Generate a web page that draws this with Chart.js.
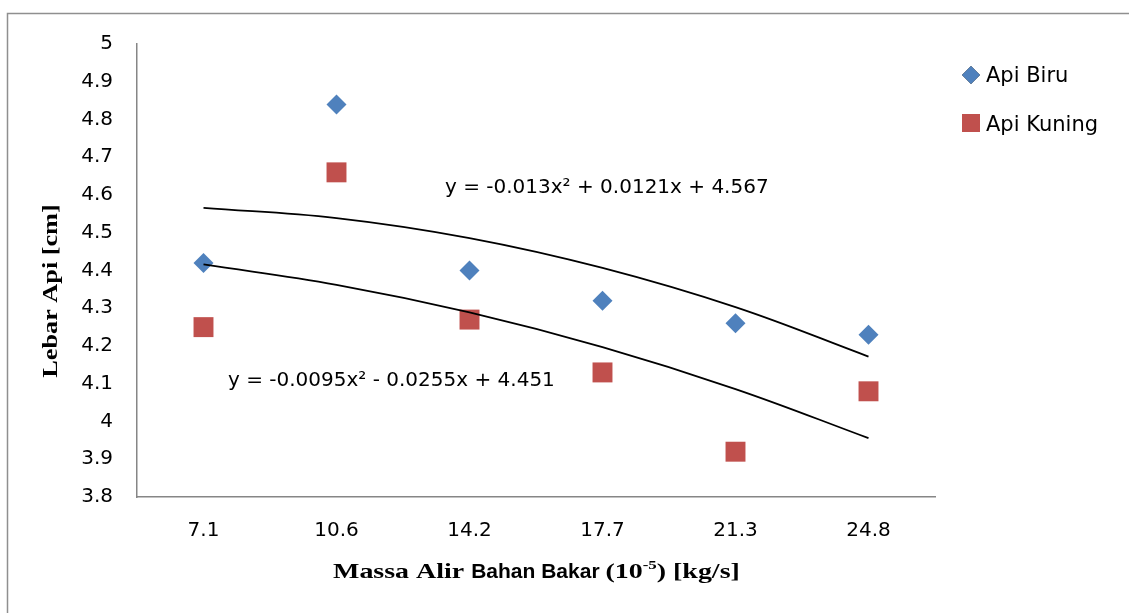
<!DOCTYPE html>
<html>
<head>
<meta charset="utf-8">
<script src="https://cdn.jsdelivr.net/npm/chart.js@4.4.0/dist/chart.umd.min.js"></script>
<style>
  html, body { margin: 0; padding: 0; background: #fff; }
  #wrap { position: relative; width: 1129px; height: 613px; }
</style>
</head>
<body>
<div id="wrap"><canvas id="chart" width="1129" height="613"></canvas></div>
<script>
// Data
const categories = ['7.1', '10.6', '14.2', '17.7', '21.3', '24.8'];
const apiBiru = [4.42, 4.84, 4.40, 4.32, 4.26, 4.23];
const apiKuning = [4.25, 4.66, 4.27, 4.13, 3.92, 4.08];
// trendline values read at each category
const trendBiru = [4.566, 4.539, 4.486, 4.407, 4.303, 4.172];
const trendKuning = [4.416, 4.362, 4.289, 4.197, 4.086, 3.956];
const eqBiru = 'y = -0.013x² + 0.0121x + 4.567';
const eqKuning = 'y = -0.0095x² - 0.0255x + 4.451';
const yTitle = 'Lebar Api [cm]';

const BLUE = '#4F81BD';
const RED = '#C0504D';
const SANS = '"DejaVu Sans", sans-serif';
const SERIF = '"Liberation Serif", "Times New Roman", serif';

// draws text runs with their own horizontal stretch
function drawRuns(ctx, runs, x, y) {
    runs.forEach(function(r) {
        ctx.save();
        ctx.font = r.font;
        ctx.translate(x, y + (r.dy || 0));
        ctx.scale(r.sx || 1, 1);
        ctx.fillText(r.text, 0, 0);
        x += ctx.measureText(r.text).width * (r.sx || 1);
        ctx.restore();
    });
}

const extras = {
    id: 'extras',
    beforeDraw(chart) {
        const ctx = chart.ctx;
        ctx.save();
        ctx.strokeStyle = '#8f8f8f';
        ctx.lineWidth = 1.5;
        ctx.strokeRect(7.5, 13.5, 2000, 2000);
        ctx.restore();
    },
    afterDraw(chart) {
        const ctx = chart.ctx;
        ctx.save();
        ctx.fillStyle = '#000';
        ctx.textAlign = 'left';
        ctx.textBaseline = 'alphabetic';

        // trendline equations
        ctx.font = '20px ' + SANS;
        ctx.fillText(eqBiru, 445, 193);
        ctx.fillText(eqKuning, 228, 386);

        // legend
        Chart.helpers.drawPoint(ctx, { pointStyle: 'rectRot', radius: 9, borderWidth: 0 }, 971, 75);
        ctx.fillStyle = BLUE;
        ctx.fill();
        ctx.fillStyle = RED;
        ctx.fillRect(962, 114, 18, 18);
        ctx.fillStyle = '#000';
        ctx.font = '21px ' + SANS;
        ctx.fillText('Api Biru', 986, 82);
        ctx.fillText('Api Kuning', 986, 131);

        // x axis title (mixed fonts as in the original)
        const sx = 1.3;
        drawRuns(ctx, [
            { text: 'Massa Alir ', font: 'bold 21.5px ' + SERIF, sx: sx },
            { text: 'Bahan Bakar ', font: 'bold 21px "Liberation Sans", Arial, sans-serif' },
            { text: '(10', font: 'bold 21.5px ' + SERIF, sx: sx },
            { text: '-5', font: 'bold 13px ' + SERIF, sx: sx, dy: -9 },
            { text: ') [kg/s]', font: 'bold 21.5px ' + SERIF, sx: sx }
        ], 333, 578);

        // y axis title
        ctx.translate(57, 291);
        ctx.rotate(-Math.PI / 2);
        ctx.scale(1.22, 1);
        ctx.textAlign = 'center';
        ctx.font = 'bold 21.5px ' + SERIF;
        ctx.fillText(yTitle, 0, 0);
        ctx.restore();
    }
};

new Chart(document.getElementById('chart'), {
    type: 'line',
    data: {
        labels: categories,
        datasets: [
            {
                label: 'Trend Biru',
                data: trendBiru,
                borderColor: '#000',
                borderWidth: 1.8,
                pointRadius: 0,
                tension: 0.4,
                fill: false,
                order: 0
            },
            {
                label: 'Trend Kuning',
                data: trendKuning,
                borderColor: '#000',
                borderWidth: 1.8,
                pointRadius: 0,
                tension: 0.4,
                fill: false,
                order: 0
            },
            {
                label: 'Api Biru',
                data: apiBiru,
                showLine: false,
                pointStyle: 'rectRot',
                pointRadius: 10,
                pointBorderWidth: 0,
                pointBackgroundColor: BLUE,
                pointBorderColor: BLUE,
                order: 1
            },
            {
                label: 'Api Kuning',
                data: apiKuning,
                showLine: false,
                pointStyle: 'rect',
                pointRadius: 14.1,
                pointBorderWidth: 0,
                pointBackgroundColor: RED,
                pointBorderColor: RED,
                order: 1
            }
        ]
    },
    options: {
        responsive: false,
        animation: false,
        layout: { padding: { left: 0, right: 194, top: 44, bottom: 0 } },
        plugins: {
            legend: { display: false },
            tooltip: { enabled: false }
        },
        scales: {
            x: {
                offset: true,
                grid: { display: false, drawTicks: false },
                border: { display: true, color: '#868686', width: 1.5 },
                ticks: {
                    color: '#000',
                    font: { family: SANS, size: 20 },
                    padding: 22,
                    maxRotation: 0,
                    autoSkip: false
                },
                afterFit: function(scale) { scale.height = 116; }
            },
            y: {
                min: 3.8,
                max: 5,
                grid: { display: false, drawTicks: false },
                border: { display: true, color: '#868686', width: 1.5 },
                ticks: {
                    stepSize: 0.1,
                    color: '#000',
                    font: { family: SANS, size: 20 },
                    padding: 24,
                    callback: function(v) { return String(Number(v.toFixed(1))); }
                },
                afterFit: function(scale) { scale.width = 137; }
            }
        }
    },
    plugins: [extras]
});
</script>
</body>
</html>
